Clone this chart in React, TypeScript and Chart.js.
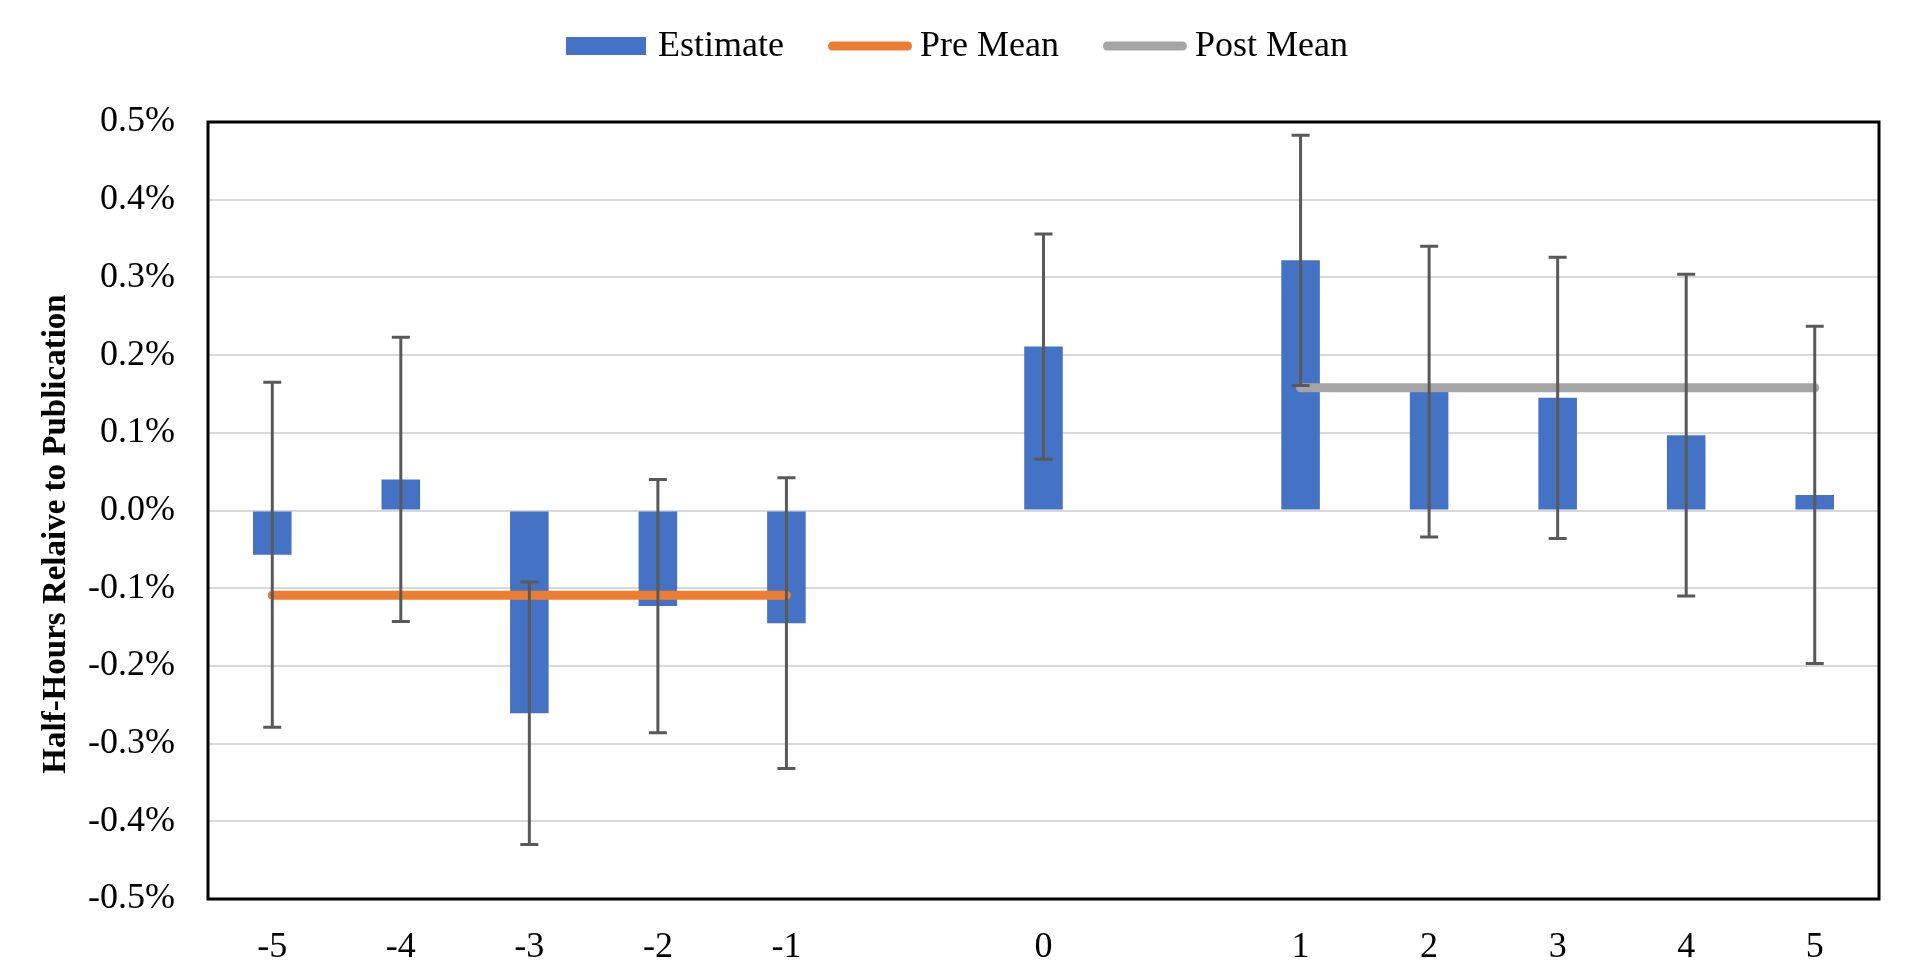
import React, { useEffect, useRef } from "react";
import { Chart, registerables } from "chart.js";

Chart.register(...registerables);

// Half-hour offsets around publication; blank slots separate pre / 0 / post groups
const categories = ["-5", "-4", "-3", "-2", "-1", "", "0", "", "1", "2", "3", "4", "5"];

// Point estimates (in %)
const estimates = [-0.057, 0.04, -0.261, -0.123, -0.145, null, 0.211, null, 0.322, 0.153, 0.145, 0.097, 0.02];

// Half-width of the confidence interval for each estimate (in %)
const errorMargins = [0.222, 0.183, 0.169, 0.163, 0.187, null, 0.145, null, 0.161, 0.187, 0.181, 0.207, 0.217];

// Mean of the pre-publication and post-publication estimates (in %)
const preMean = [-0.109, -0.109, -0.109, -0.109, -0.109, null, null, null, null, null, null, null, null];
const postMean = [null, null, null, null, null, null, null, null, 0.158, 0.158, 0.158, 0.158, 0.158];

// Value axis range and tick step (in %)
const yMin = -0.5;
const yMax = 0.5;
const yStep = 0.1;

const axisTitle = "Half-Hours Relaive to Publication";

const FONT = "'Liberation Serif', 'Times New Roman', serif";
const BAR_COLOR = "#4472C4";
const PRE_COLOR = "#ED7D31";
const POST_COLOR = "#A5A5A5";
const ERR_COLOR = "#595959";

const errorBarPlugin = {
  id: "errorBars",
  afterDatasetsDraw(chart: any) {
    const { ctx, scales } = chart;
    const xs = scales.x;
    const ys = scales.y;
    ctx.save();
    ctx.strokeStyle = ERR_COLOR;
    ctx.lineWidth = 3;
    ctx.lineCap = "butt";
    const cap = 9;
    estimates.forEach((v, i) => {
      const e = errorMargins[i];
      if (v === null || e === null) return;
      const x = xs.getPixelForValue(i);
      const yt = ys.getPixelForValue(v + e);
      const yb = ys.getPixelForValue(v - e);
      ctx.beginPath();
      ctx.moveTo(x, yt);
      ctx.lineTo(x, yb);
      ctx.moveTo(x - cap, yt);
      ctx.lineTo(x + cap, yt);
      ctx.moveTo(x - cap, yb);
      ctx.lineTo(x + cap, yb);
      ctx.stroke();
    });
    ctx.restore();
  },
};

const framePlugin = {
  id: "frameLegendTitle",
  afterDraw(chart: any) {
    const { ctx, chartArea, width } = chart;
    ctx.save();

    // plot frame
    ctx.strokeStyle = "#000";
    ctx.lineWidth = 3;
    ctx.strokeRect(chartArea.left, chartArea.top, chartArea.right - chartArea.left, chartArea.bottom - chartArea.top);

    // legend
    ctx.font = `36px ${FONT}`;
    ctx.textBaseline = "middle";
    ctx.textAlign = "left";
    const ds = chart.data.datasets;
    const symbolW = 84;
    const textGap = 8;
    const itemGap = 44;
    const widths = ds.map((d: any) => ctx.measureText(d.label).width);
    const total =
      widths.reduce((a: number, w: number) => a + symbolW + textGap + w, 0) + itemGap * (ds.length - 1);
    let x = (width - total) / 2 - 2;
    const y = 46;
    ds.forEach((d: any, i: number) => {
      if (d.type === "bar") {
        ctx.fillStyle = d.backgroundColor;
        ctx.fillRect(x, y - 9, symbolW - 4, 18);
      } else {
        ctx.strokeStyle = d.borderColor;
        ctx.lineWidth = 9;
        ctx.lineCap = "round";
        ctx.beginPath();
        ctx.moveTo(x + 4.5, y);
        ctx.lineTo(x + symbolW - 4.5, y);
        ctx.stroke();
      }
      ctx.fillStyle = "#000";
      ctx.fillText(d.label, x + symbolW + textGap, y + 1);
      x += symbolW + textGap + widths[i] + itemGap;
    });

    // vertical axis title
    ctx.translate(56, 534);
    ctx.rotate(-Math.PI / 2);
    ctx.font = `bold 33px ${FONT}`;
    ctx.textAlign = "center";
    ctx.fillStyle = "#000";
    ctx.fillText(axisTitle, 0, 0);
    ctx.restore();
  },
};

export default function App() {
  const canvasRef = useRef<HTMLCanvasElement>(null);

  useEffect(() => {
    if (!canvasRef.current) return;
    Chart.defaults.font.family = FONT;
    const chart = new Chart(canvasRef.current, {
      type: "bar",
      data: {
        labels: categories,
        datasets: [
          {
            type: "bar",
            label: "Estimate",
            data: estimates,
            backgroundColor: BAR_COLOR,
            borderWidth: 0,
            barPercentage: 0.3,
            categoryPercentage: 1,
            order: 2,
          },
          {
            type: "line",
            label: "Pre Mean",
            data: preMean,
            borderColor: PRE_COLOR,
            backgroundColor: PRE_COLOR,
            borderWidth: 9,
            borderCapStyle: "round",
            pointRadius: 0,
            spanGaps: false,
            order: 1,
          },
          {
            type: "line",
            label: "Post Mean",
            data: postMean,
            borderColor: POST_COLOR,
            backgroundColor: POST_COLOR,
            borderWidth: 9,
            borderCapStyle: "round",
            pointRadius: 0,
            spanGaps: false,
            order: 1,
          },
        ] as any,
      },
      options: {
        responsive: false,
        devicePixelRatio: 1,
        animation: false,
        layout: { padding: { top: 122, right: 39, left: 0, bottom: 0 } },
        plugins: {
          legend: { display: false },
          tooltip: { enabled: false },
        },
        scales: {
          x: {
            offset: true,
            grid: { display: false, drawTicks: false },
            border: { display: false },
            ticks: {
              color: "#000",
              font: { size: 36, family: FONT },
              padding: 27,
              autoSkip: false,
              maxRotation: 0,
            },
            afterFit: (s: any) => {
              s.height = 77;
            },
          },
          y: {
            min: yMin,
            max: yMax,
            grid: { color: "#D9D9D9", lineWidth: 2, drawTicks: false },
            border: { display: false },
            ticks: {
              stepSize: yStep,
              color: "#000",
              font: { size: 36, family: FONT },
              padding: 33,
              callback: (v: any) => {
                const n = Math.abs(Number(v)) < 1e-9 ? 0 : Number(v);
                return n.toFixed(1) + "%";
              },
            },
            afterFit: (s: any) => {
              s.width = 208;
            },
          },
        },
      } as any,
      plugins: [errorBarPlugin, framePlugin],
    });
    return () => chart.destroy();
  }, []);

  return (
    <div style={{ position: "absolute", left: 0, top: 0, width: 1918, height: 976, background: "#fff" }}>
      <canvas ref={canvasRef} width={1918} height={976} style={{ display: "block", width: 1918, height: 976 }} />
    </div>
  );
}
